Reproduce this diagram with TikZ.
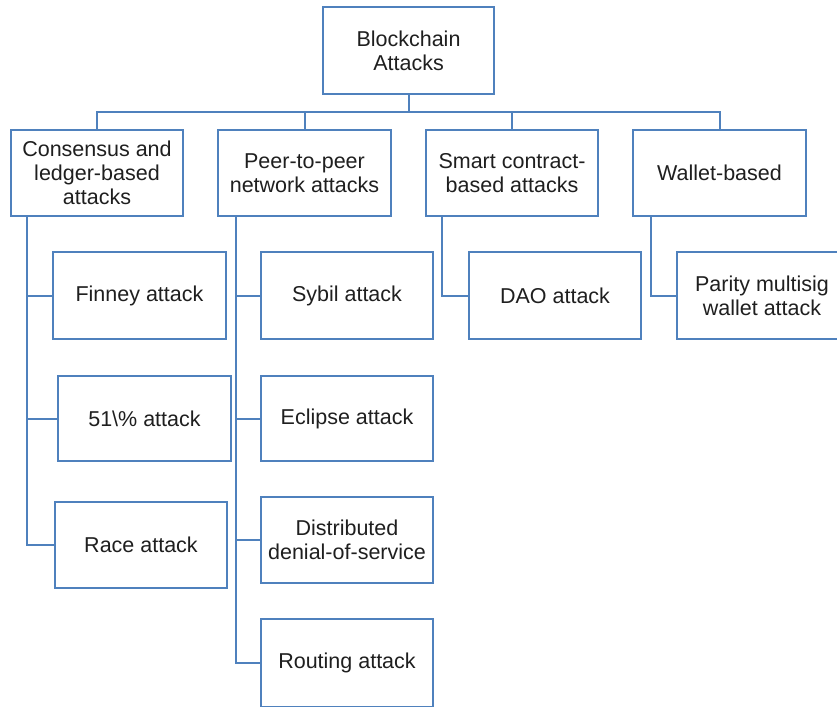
\documentclass[tikz,border=0pt]{standalone}
\usepackage{fontspec}
\setmainfont{Liberation Sans}
\begin{document}
\begin{tikzpicture}[x=1pt,y=-1pt,
  linecol/.style={draw=boxblue, line width=2pt},
  box/.style={linecol, fill=white, rectangle, align=center, inner sep=0pt,
    font=\fontsize{21.5}{24}\selectfont, text=black!88},
  link/.style={linecol}]
\definecolor{boxblue}{HTML}{4F81BD}
\useasboundingbox (0,0) rectangle (837,706);
\clip (0,0) rectangle (837,706);

% root and first-level categories
\node[box, minimum width=171pt, minimum height=87pt] (root) at (408.5,51) {Blockchain\\Attacks};
\node[box, minimum width=172pt, minimum height=86pt] (c1) at (97,173) {Consensus and\\ledger-based\\attacks};
\node[box, minimum width=173pt, minimum height=86pt] (c2) at (304.5,173) {Peer-to-peer\\network attacks};
\node[box, minimum width=172pt, minimum height=86pt] (c3) at (512,173) {Smart contract-\\based attacks};
\node[box, minimum width=173pt, minimum height=86pt] (c4) at (719.5,173) {Wallet-based};

% leaves
\node[box, minimum width=173pt, minimum height=87pt] (fin) at (139.5,295.5) {Finney attack};
\node[box, minimum width=173pt, minimum height=85pt] (maj) at (144.5,418.5) {51\textbackslash\% attack};
\node[box, minimum width=172pt, minimum height=86pt] (race) at (141,545) {Race attack};
\node[box, minimum width=172pt, minimum height=87pt] (syb) at (347,295.5) {Sybil attack};
\node[box, minimum width=172pt, minimum height=85pt] (ecl) at (347,418.5) {Eclipse attack};
\node[box, minimum width=172pt, minimum height=86pt] (ddos) at (347,540) {Distributed\\denial-of-service};
\node[box, minimum width=172pt, minimum height=88pt] (rout) at (347,663) {Routing attack};
\node[box, minimum width=172pt, minimum height=87pt] (dao) at (555,295.5) {DAO attack};
\node[box, minimum width=170pt, minimum height=87pt] (par) at (762,295.5) {Parity multisig\\wallet attack};

% bus from the root to the categories
\coordinate (bus) at (0,112);
\foreach \c in {c1,c2,c3,c4}
  \draw[link] (root.south) -- (root.south |- bus) -| (\c.north);

% trunks down the left side of each category
\coordinate (t1) at ([xshift=17pt]c1.south west);
\coordinate (t2) at ([xshift=19pt]c2.south west);
\coordinate (t3) at ([xshift=17pt]c3.south west);
\coordinate (t4) at ([xshift=19pt]c4.south west);

\draw[link] (t1) |- (race.west);
\draw[link] (t1 |- fin.west) -- (fin.west);
\draw[link] (t1 |- maj.west) -- (maj.west);

\draw[link] (t2) |- (rout.west);
\draw[link] (t2 |- syb.west) -- (syb.west);
\draw[link] (t2 |- ecl.west) -- (ecl.west);
\draw[link] (t2 |- ddos.west) -- (ddos.west);

\draw[link] (t3) |- (dao.west);
\draw[link] (t4) |- (par.west);
\end{tikzpicture}
\end{document}
